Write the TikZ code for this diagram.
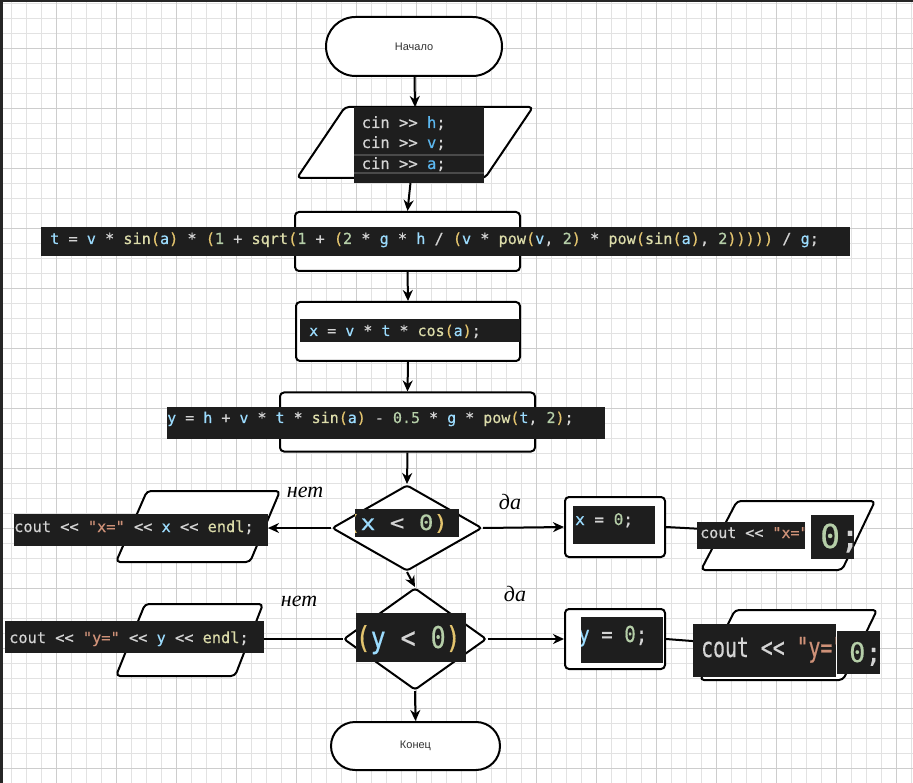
\documentclass[tikz,border=0pt]{standalone}
\usepackage{fontspec}
\setmainfont{Liberation Sans}
\setmonofont{DejaVu Sans Mono}[FakeBold=0.5]
\newfontfamily\handfont{Liberation Serif}
\usetikzlibrary{arrows.meta,shapes.misc,shapes.geometric}

% editor colour scheme for the code snippets
\definecolor{vsbg}{HTML}{1E1E1E}
\definecolor{vstxt}{HTML}{D4D4D4}
\definecolor{vsvar}{HTML}{9CDCFE}
\definecolor{vsglob}{HTML}{5CB8F0}
\definecolor{vsfn}{HTML}{DCDCAA}
\definecolor{vsnum}{HTML}{B5CEA8}
\definecolor{vsstr}{HTML}{CE9178}
\definecolor{vsbr}{HTML}{E3C46E}
\definecolor{vsline}{HTML}{4A4A4A}
\definecolor{gridminor}{HTML}{E2E2E2}
\definecolor{gridmajor}{HTML}{CDCDCD}

\newcommand\kV[1]{\textcolor{vsvar}{#1}}
\newcommand\kG[1]{\textcolor{vsglob}{#1}}
\newcommand\kF[1]{\textcolor{vsfn}{#1}}
\newcommand\kN[1]{\textcolor{vsnum}{#1}}
\newcommand\kS[1]{\textcolor{vsstr}{#1}}
\newcommand\kB[1]{\textcolor{vsbr}{#1}}

\tikzset{
  outline/.style={draw=black, line width=2pt, rounded corners=4pt, fill=white, line join=round},
  term/.style={rounded rectangle, draw=black, line width=2pt, fill=white, inner sep=0pt,
    font=\fontsize{11}{13}\selectfont, text=black!80},
  proc/.style={rectangle, draw=black, line width=2pt, rounded corners=4pt, fill=white, inner sep=0pt},
  cond/.style={diamond, draw=black, line width=2pt, rounded corners=3pt, fill=white, inner sep=0pt},
  arrowline/.style={line width=2pt, -{Stealth[length=11pt,width=10pt,inset=3.5pt]}},
  code/.style={anchor=base west, inner sep=0pt, text=vstxt,
    font=\ttfamily\frenchspacing\fontsize{#1}{#1}\selectfont},
  hand/.style={font=\handfont\itshape\fontsize{22}{24}\selectfont, text=black},
}

\begin{document}
\begin{tikzpicture}[x=1pt,y=-1pt]
\useasboundingbox (0,0) rectangle (913,783);
\fill[white] (0,0) rectangle (913,783);

% background grid
\foreach \k in {0,...,60}
  \draw[gridminor, line width=0.8pt] ({11.7+15*\k},0) -- ({11.7+15*\k},783);
\foreach \k in {0,...,52}
  \draw[gridminor, line width=0.8pt] (0,{3.3+15*\k}) -- (913,{3.3+15*\k});
\foreach \k in {0,...,14}
  \draw[gridmajor, line width=1pt] ({56.7+60*\k},0) -- ({56.7+60*\k},783);
\foreach \k in {0,...,12}
  \draw[gridmajor, line width=1pt] (0,{48.3+60*\k}) -- (913,{48.3+60*\k});
\fill[black!85] (0,0) rectangle (913,2.5);
\fill[black!85] (0,0) rectangle (2.5,783);

% flowchart blocks
\node[term, minimum width=176pt, minimum height=59pt] (start) at (414,46.5) {Начало};
\draw[outline] (345,107) -- (533,107) -- (485,178) -- (297,178) -- cycle;
\coordinate (intop) at (415,107);
\coordinate (inbot) at (411,178);
\node[proc, minimum width=225pt, minimum height=59pt] (tbox) at (407.5,241.5) {};
\node[proc, minimum width=224pt, minimum height=59pt] (xbox) at (408,331.5) {};
\node[proc, minimum width=255pt, minimum height=59pt] (ybox) at (407.5,422) {};
\node[cond, minimum width=150pt, minimum height=86pt] (d1) at (407,528) {};
\node[proc, minimum width=100pt, minimum height=60pt] (x0box) at (615,527) {};
\node[cond, minimum width=143pt, minimum height=102pt] (d2) at (415,639) {};
\node[proc, minimum width=100pt, minimum height=60pt] (y0box) at (615,639) {};
\node[term, minimum width=169pt, minimum height=48pt] (finish) at (415.5,746) {Конец};

% output blocks
\draw[outline] (147,491) -- (280,491) -- (250,562) -- (116,562) -- cycle;
\draw[outline] (145,604) -- (263,604) -- (235,676) -- (116,676) -- cycle;
\draw[outline] (737,501) -- (875,501) -- (842,570) -- (701,570) -- cycle;
\draw[outline] (735,610) -- (877,610) -- (843,680) -- (700,680) -- cycle;
\coordinate (xinL) at (268,528);
\coordinate (yinL) at (252,639);
\coordinate (xinR) at (722,530);
\coordinate (yinR) at (718,643);

% connectors
\draw[arrowline] (start) -- (intop);
\draw[arrowline] (inbot) -- (tbox.north);
\draw[arrowline] (tbox.south) -- (xbox.north);
\draw[arrowline] (xbox.south) -- (ybox.north);
\draw[arrowline] (ybox.south) -- (d1.north);
\draw[arrowline] (d1.west) -- (xinL);
\draw[arrowline] (d1.east) -- (x0box.west);
\draw[arrowline] (x0box.east) -- (xinR);
\draw[arrowline] (d1.south) -- (d2.north);
\draw[arrowline] (d2.west) -- (yinL);
\draw[arrowline] (d2.east) -- (y0box.west);
\draw[arrowline] (y0box.east) -- (yinR);
\draw[arrowline] (d2.south) -- (finish.north);

% branch labels
\node[hand] (no1) at (305,492) {нет};
\node[hand] (yes1) at (510,502) {да};
\node[hand] (no2) at (299,601) {нет};
\node[hand] (yes2) at (515,594) {да};

% code snippets
\begin{scope}
  \clip (354,107) rectangle (484,183);
  \fill[vsbg] (354,107) rectangle (484,183);
  \fill[vsline] (354,154) rectangle (484,156.5);
  \fill[vsline] (354,172) rectangle (484,174.5);
  \node[code=15.5] (cin1) at (361.5,128) {cin >> \kG{h};};
  \node[code=15.5] (cin2) at (361.5,148) {cin >> \kG{v};};
  \node[code=15.5] (cin3) at (361.5,169) {cin >> \kG{a};};
\end{scope}

\begin{scope}
  \clip (41,227) rectangle (850,256);
  \fill[vsbg] (41,227) rectangle (850,256);
  \node[code=15.2] (tcode) at (50,244) {\kV{t} = \kV{v} * \kF{sin}\kB{(}\kV{a}\kB{)} * \kB{(}\kN{1} + \kF{sqrt}\kB{(}\kN{1} + \kB{(}\kN{2} * \kV{g} * \kV{h} / \kB{(}\kV{v} * \kF{pow}\kB{(}\kV{v}, \kN{2}\kB{)} * \kF{pow}\kB{(}\kF{sin}\kB{(}\kV{a}\kB{)}, \kN{2}\kB{)))))} / \kV{g};};
\end{scope}

\begin{scope}
  \clip (300,319) rectangle (520,342);
  \fill[vsbg] (300,319) rectangle (520,342);
  \node[code=15] (xcode) at (309,336) {\kV{x} = \kV{v} * \kV{t} * \kF{cos}\kB{(}\kV{a}\kB{)};};
\end{scope}

\begin{scope}
  \clip (167,407) rectangle (605,439);
  \fill[vsbg] (167,407) rectangle (605,439);
  \node[code=15] (ycode) at (167,423) {\kV{y} = \kV{h} + \kV{v} * \kV{t} * \kF{sin}\kB{(}\kV{a}\kB{)} - \kN{0.5} * \kV{g} * \kF{pow}\kB{(}\kV{t}, \kN{2}\kB{)};};
\end{scope}

\begin{scope}
  \clip (355,509) rectangle (459,537);
  \fill[vsbg] (355,509) rectangle (459,537);
  \node[code=21] (c1code) at (346,530) {\scalebox{1.15}[1]{\kB{(}\kV{x} < \kN{0}\kB{)}}};
\end{scope}

\begin{scope}
  \clip (573,506) rectangle (655,544);
  \fill[vsbg] (573,506) rectangle (655,544);
  \node[code=16] (x0code) at (575,525) {\kV{x} = \kN{0};};
\end{scope}

\begin{scope}
  \clip (697,522) rectangle (805,549);
  \fill[vsbg] (697,522) rectangle (805,549);
  \node[code=15] (xoutcode) at (700,538) {cout << \kS{"x="}};
\end{scope}

\begin{scope}
  \clip (811,515) rectangle (854,559);
  \fill[vsbg] (811,515) rectangle (854,559);
  \node[code=33] (xzero) at (820,548) {\kN{0};};
\end{scope}

\begin{scope}
  \clip (14,514) rectangle (268,546);
  \fill[vsbg] (14,514) rectangle (268,546);
  \node[code=15.3] (xneg) at (14,532) {cout << \kS{"x="} << \kV{x} << \kF{endl};};
\end{scope}

\begin{scope}
  \clip (356,613) rectangle (466,662);
  \fill[vsbg] (356,613) rectangle (466,662);
  \node[code=30] (c2code) at (355.5,648) {\scalebox{.83}[1]{\kB{(}\kV{y} < \kN{0}\kB{)}}};
\end{scope}

\begin{scope}
  \clip (581,617) rectangle (663,663);
  \fill[vsbg] (581,617) rectangle (663,663);
  \node[code=22] (y0code) at (578,642) {\scalebox{.87}[1]{\kV{y} = \kN{0};}};
\end{scope}

\begin{scope}
  \clip (693,624) rectangle (836,677);
  \fill[vsbg] (693,624) rectangle (836,677);
  \node[code=27.5] (youtcode) at (701,657) {\scalebox{.72}[1]{cout << \kS{"y="}}};
\end{scope}

\begin{scope}
  \clip (837,631) rectangle (880,674);
  \fill[vsbg] (837,631) rectangle (880,674);
  \node[code=27] (yzero) at (849,662) {\kN{0};};
\end{scope}

\begin{scope}
  \clip (5,621) rectangle (264,653);
  \fill[vsbg] (5,621) rectangle (264,653);
  \node[code=15.3] (yneg) at (9,643) {cout << \kS{"y="} << \kV{y} << \kF{endl};};
\end{scope}

\end{tikzpicture}
\end{document}
